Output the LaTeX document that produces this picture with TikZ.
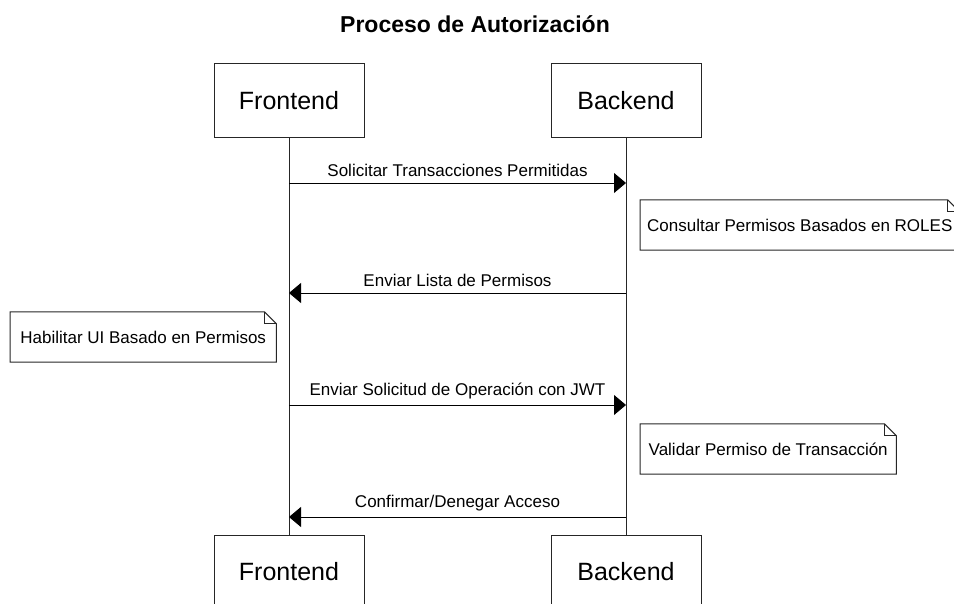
\documentclass[tikz,border=0pt]{standalone}
\usepackage{fontspec}
\setmainfont{Liberation Sans}
\usetikzlibrary{arrows.meta}
\begin{document}
\begin{tikzpicture}[x=1pt,y=-1pt,
  actor/.style={draw=black!85,line width=1pt,minimum width=150pt,minimum height=74pt,inner sep=0pt,font=\fontsize{25}{27}\selectfont},
  notebox/.style={draw=none,minimum height=50pt,inner xsep=7pt,inner ysep=0pt,anchor=west,font=\fontsize{17}{19}\selectfont},
  msglabel/.style={font=\fontsize{17}{19}\selectfont,inner sep=0pt},
  lifeline/.style={draw=black!85,line width=1pt},
  msg/.style={draw=black,line width=0.9pt,-{Triangle[length=12pt,width=20pt]}},
  notedraw/.style={draw=black!85,line width=1pt,line join=miter}
]
\useasboundingbox (0,0) rectangle (954,604);
\clip (0,0) rectangle (954,604);

\node[font=\fontsize{23}{25}\selectfont\bfseries] (title) at (475,24) {Proceso de Autorización};

\node[actor] (fetop) at (289,101) {Frontend};
\node[actor] (betop) at (626,101) {Backend};
\node[actor] (febot) at (289,572) {Frontend};
\node[actor] (bebot) at (626,572) {Backend};

\draw[lifeline] (fetop.south) -- (febot.north);
\draw[lifeline] (betop.south) -- (bebot.north);

% message endpoints on lifelines
\coordinate (f1) at (fetop.south |- 0,183);
\coordinate (b1) at (betop.south |- 0,183);
\coordinate (f2) at (fetop.south |- 0,293);
\coordinate (b2) at (betop.south |- 0,293);
\coordinate (f3) at (fetop.south |- 0,405);
\coordinate (b3) at (betop.south |- 0,405);
\coordinate (f4) at (fetop.south |- 0,517);
\coordinate (b4) at (betop.south |- 0,517);

\draw[msg] (f1) -- node[msglabel,above=6pt] (l1) {Solicitar Transacciones Permitidas} (b1);
\draw[msg] (b2) -- node[msglabel,above=6pt] (l2) {Enviar Lista de Permisos} (f2);
\draw[msg] (f3) -- node[msglabel,above=6pt] (l3) {Enviar Solicitud de Operación con JWT} (b3);
\draw[msg] (b4) -- node[msglabel,above=6pt] (l4) {Confirmar/Denegar Acceso} (f4);

% notes
\node[notebox] (n1) at (640,225) {Consultar Permisos Basados en ROLES};
\node[notebox,minimum width=266pt] (n2) at (10,337) {Habilitar UI Basado en Permisos};
\node[notebox,minimum width=256pt] (n3) at (640,449) {Validar Permiso de Transacción};

\foreach \n in {n1,n2,n3}{
  \draw[notedraw] ([xshift=-12pt]\n.north east) -- (\n.north west) -- (\n.south west) -- (\n.south east) -- ([yshift=-12pt]\n.north east) -- cycle;
  \draw[notedraw,line width=0.8pt] ([xshift=-12pt]\n.north east) -- ([xshift=-12pt,yshift=-12pt]\n.north east) -- ([yshift=-12pt]\n.north east);
}
\end{tikzpicture}
\end{document}
